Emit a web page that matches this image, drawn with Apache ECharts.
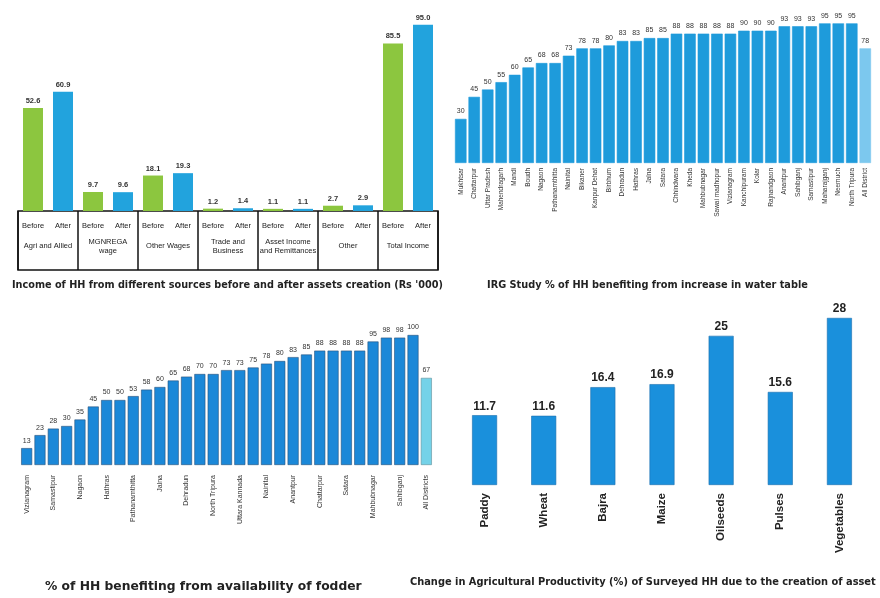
<!DOCTYPE html>
<html>
<head>
<meta charset="utf-8">
<script src="https://cdn.jsdelivr.net/npm/echarts@6/dist/echarts.min.js"></script>
<style>
  html, body { margin: 0; padding: 0; background: #ffffff; }
  #chart { width: 880px; height: 598px; }
</style>
</head>
<body>
<div id="chart"></div>
<script>
// panel 1: income before / after
const incomeGroups = ['Agri and Allied', 'MGNREGA\nwage', 'Other Wages', 'Trade and\nBusiness', 'Asset Income\nand Remittances', 'Other', 'Total Income']
const incomeBefore = [52.6, 9.7, 18.1, 1.2, 1.1, 2.7, 85.5]
const incomeAfter = [60.9, 9.6, 19.3, 1.4, 1.1, 2.9, 95.0]
const phaseLabels = incomeGroups.flatMap(() => ['Before', 'After'])

// panel 2: water table
const waterDistricts = ['Mukhtsar', 'Chattarpur', 'Uttar Pradesh', 'Mahendragarh', 'Mandi', 'Boudh', 'Nagaon', 'Pathanamthitta', 'Nainital', 'Bikaner', 'Kanpur Dehat', 'Birbhum', 'Dehradun', 'Hathras', 'Jalna', 'Satara', 'Chhindwara', 'Kheda', 'Mahbubnagar', 'Sawai madhopur', 'Vizianagram', 'Kanchipuram', 'Kolar', 'Rajnandgaon', 'Anantpur', 'Sahibganj', 'Samastipur', 'Maharajganj', 'Neemuch', 'North Tripura', 'All District']
const waterValues = [30, 45, 50, 55, 60, 65, 68, 68, 73, 78, 78, 80, 83, 83, 85, 85, 88, 88, 88, 88, 88, 90, 90, 90, 93, 93, 93, 95, 95, 95, 78]

// panel 3: fodder
const fodderDistricts = ['Vizianagram', 'Kolar', 'Samastipur', 'Boudh', 'Nagaon', 'Mandi', 'Hathras', 'Bikaner', 'Pathanamthitta', 'Kheda', 'Jalna', 'Birbhum', 'Dehradun', 'Kanpur Dehat', 'North Tripura', 'Chhindwara', 'Uttara Kannada', 'Neemuch', 'Nainital', 'Rajnandgaon', 'Anantpur', 'Kanchipuram', 'Chattarpur', 'Mahendragarh', 'Satara', 'Sawai madhopur', 'Mahbubnagar', 'Maharajganj', 'Sahibganj', 'Mukhtsar', 'All Districts']
const fodderValues = [13, 23, 28, 30, 35, 45, 50, 50, 53, 58, 60, 65, 68, 70, 70, 73, 73, 75, 78, 80, 83, 85, 88, 88, 88, 88, 95, 98, 98, 100, 67]

// panel 4: productivity
const crops = ['Paddy', 'Wheat', 'Bajra', 'Maize', 'Oilseeds', 'Pulses', 'Vegetables']
const cropChange = [11.7, 11.6, 16.4, 16.9, 25, 15.6, 28]

const chart = echarts.init(document.getElementById('chart'))

const font = 'Liberation Sans, Arial, sans-serif'
const titleFont = 'DejaVu Sans, sans-serif'
const hidden = { show: false }

function hiddenY(gridIndex, max) {
  return { type: 'value', gridIndex, min: 0, max, show: false, splitLine: hidden }
}

function lastHighlighted(values, color, lastColor, border, lastBorder) {
  return values.map((v, i) => ({
    value: v,
    itemStyle: i === values.length - 1
      ? { color: lastColor, borderColor: lastBorder, borderWidth: 0.6 }
      : { color, borderColor: border, borderWidth: 0.6 }
  }))
}

const option = {
  animation: false,
  backgroundColor: '#ffffff',
  textStyle: { fontFamily: font },
  title: [
    { text: "Income of HH from different sources before and after assets creation (Rs '000)", left: 7, top: 275,
      textStyle: { fontSize: 9.7, fontWeight: 'bold', color: '#222', fontFamily: titleFont } },
    { text: 'IRG Study % of HH benefiting from increase in water table', left: 482, top: 275,
      textStyle: { fontSize: 9.75, fontWeight: 'bold', color: '#222', fontFamily: titleFont } },
    { text: '% of HH benefiting from availability of fodder', left: 40, top: 576,
      textStyle: { fontSize: 12.3, fontWeight: 'bold', color: '#222', fontFamily: titleFont } },
    { text: 'Change in Agricultural Productivity (%) of Surveyed HH due to the creation of asset', left: 405, top: 572,
      textStyle: { fontSize: 9.85, fontWeight: 'bold', color: '#222', fontFamily: titleFont } }
  ],
  grid: [
    { left: 18, top: 15, width: 420, height: 196 },
    { left: 18, top: 211, width: 420, height: 59, show: true, borderColor: '#111', borderWidth: 1.5, backgroundColor: 'transparent' },
    { left: 454, top: 16, width: 418, height: 147 },
    { left: 20, top: 335, width: 413, height: 130 },
    { left: 455, top: 306, width: 414, height: 179 }
  ],
  xAxis: [
    { type: 'category', gridIndex: 0, position: 'bottom', data: incomeGroups, axisLine: hidden, axisTick: hidden, axisLabel: hidden },
    { type: 'category', gridIndex: 0, position: 'bottom', offset: 0, data: phaseLabels, axisLine: hidden, axisTick: hidden,
      axisLabel: { interval: 0, margin: 11, fontSize: 7.5, color: '#222' } },
    { type: 'category', gridIndex: 1, data: incomeGroups, axisLine: hidden, axisTick: hidden,
      splitLine: { show: true, interval: 0, lineStyle: { color: '#111', width: 1.5 } },
      axisLabel: { interval: 0, inside: true, margin: 24, fontSize: 7.5, lineHeight: 9, color: '#222', verticalAlign: 'middle' } },
    { type: 'category', gridIndex: 2, data: waterDistricts, axisLine: hidden, axisTick: hidden,
      axisLabel: { interval: 0, rotate: 90, margin: 5, fontSize: 6.5, color: '#333' } },
    { type: 'category', gridIndex: 3, data: fodderDistricts, axisLine: hidden, axisTick: hidden,
      axisLabel: { interval: 1, rotate: 90, margin: 10, fontSize: 7, color: '#333' } },
    { type: 'category', gridIndex: 4, data: crops, axisLine: hidden, axisTick: hidden,
      axisLabel: { interval: 0, rotate: 90, margin: 8, fontSize: 11.5, fontWeight: 'bold', color: '#222' } }
  ],
  yAxis: [
    hiddenY(0, 100),
    hiddenY(1, 100),
    hiddenY(2, 100),
    hiddenY(3, 100),
    hiddenY(4, 30)
  ],
  series: [
    {
      name: 'Before', type: 'bar', xAxisIndex: 0, yAxisIndex: 0,
      barWidth: 20, barGap: '50%',
      itemStyle: { color: '#8cc63f' },
      label: { show: true, position: 'top', distance: 3, fontSize: 7.5, fontWeight: 'bold', color: '#333',
        formatter: (p) => p.value.toFixed(1) },
      data: incomeBefore
    },
    {
      name: 'After', type: 'bar', xAxisIndex: 0, yAxisIndex: 0,
      barWidth: 20, barGap: '50%',
      itemStyle: { color: '#22a3dd' },
      label: { show: true, position: 'top', distance: 3, fontSize: 7.5, fontWeight: 'bold', color: '#333',
        formatter: (p) => p.value.toFixed(1) },
      data: incomeAfter
    },
    {
      name: 'Water table', type: 'bar', xAxisIndex: 3, yAxisIndex: 2,
      barWidth: 11.5,
      label: { show: true, position: 'top', distance: 4, fontSize: 7, color: '#333' },
      data: lastHighlighted(waterValues, '#1e9bdb', '#7cc8ee', '#1e9bdb', '#7cc8ee')
    },
    {
      name: 'Fodder', type: 'bar', xAxisIndex: 4, yAxisIndex: 3,
      barWidth: 11,
      label: { show: true, position: 'top', distance: 4, fontSize: 7, color: '#333' },
      data: lastHighlighted(fodderValues, '#1b88d8', '#74d2e8', '#27517a', '#5f8f99')
    },
    {
      name: 'Productivity', type: 'bar', xAxisIndex: 5, yAxisIndex: 4,
      barWidth: 25,
      itemStyle: { color: '#1a90dc', borderColor: '#1b6fae', borderWidth: 0.6 },
      label: { show: true, position: 'top', distance: 3, fontSize: 12, fontWeight: 'bold', color: '#222' },
      data: cropChange
    }
  ]
}

chart.setOption(option)
</script>
</body>
</html>
